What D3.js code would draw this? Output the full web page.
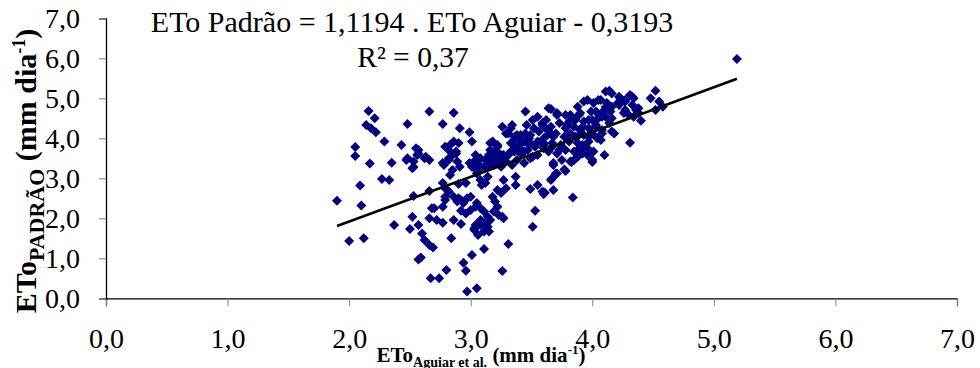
<!DOCTYPE html>
<html>
<head>
<meta charset="utf-8">
<script src="https://cdn.jsdelivr.net/npm/d3@7"></script>
<style>
  body { margin: 0; background: #fff; }
  svg { display: block; font-family: "Liberation Serif", "Times New Roman", serif; }
</style>
</head>
<body>
<figure id="scatter" style="margin:0"></figure>
<script>
// ETo (Aguiar et al.) vs ETo padrão, mm dia-1
const etoAguiar = [
  1.90,2.00,2.12,2.09,2.10,2.27,2.33,2.37,2.52,2.50,2.53,2.57,2.60,2.62,2.66,2.66,2.69,2.59,2.57,2.68,
  2.66,2.67,2.74,2.77,2.77,2.72,2.77,2.80,2.84,2.83,2.85,2.79,2.82,2.86,2.89,2.92,2.86,2.92,2.92,2.90,
  2.96,2.97,3.00,2.94,2.96,3.01,2.97,3.05,3.03,3.06,3.11,3.05,3.08,3.09,3.14,3.12,3.05,3.08,3.11,3.14,
  3.16,3.08,3.11,3.14,3.15,3.11,3.08,3.18,3.20,3.22,3.19,3.23,3.26,3.27,3.22,3.25,3.27,3.29,3.31,3.26,
  3.37,3.37,3.51,3.53,3.49,3.55,3.59,3.60,3.70,3.67,3.66,3.78,3.68,3.61,3.84,3.68,3.77,3.83,4.00,
  2.16,2.21,2.14,2.18,2.22,2.29,2.05,2.05,2.17,2.35,2.43,2.48,2.47,2.53,2.52,2.56,2.57,2.62,2.66,2.66,
  2.77,2.86,2.91,2.99,2.77,2.83,2.86,2.88,2.85,2.90,2.82,2.89,3.01,2.99,3.04,3.08,3.11,3.07,3.03,3.14,
  3.16,3.22,3.20,3.15,3.19,3.25,3.18,3.23,3.27,3.26,3.34,3.31,3.38,3.33,3.37,3.41,3.44,3.40,3.36,3.31,
  3.44,3.48,3.45,3.51,3.55,3.59,3.56,3.52,3.46,3.49,3.60,3.55,3.55,3.49,3.44,3.60,
  5.19,4.14,3.66,3.71,3.62,3.63,3.66,3.68,3.60,3.67,3.73,3.68,3.71,3.85,3.82,3.88,3.92,3.96,4.00,4.10,
  4.18,4.31,4.40,4.52,4.48,4.55,4.58,4.52,4.33,4.38,4.27,4.23,4.21,4.30,4.26,4.34,3.88,3.93,3.96,4.01,
  4.07,4.12,4.16,3.82,3.90,3.99,4.04,4.10,4.15,3.81,3.86,3.93,4.00,4.05,4.11,3.78,3.85,3.90,3.97,4.03,
  3.79,3.86,3.93,3.99,4.08,3.92,3.97,4.04,3.88,3.96,4.01,4.07,
  4.31,4.34,4.16,3.33,3.29,3.18,3.22,3.16,2.79,2.83,2.88,2.82,2.78,2.91,3.04,3.12,3.15,3.07,3.01,3.11,
  3.23,3.25,3.20,3.27,3.29,3.25,3.36,3.40,3.37,3.33,3.42,3.45,3.48,3.41,3.47,3.38,3.34,3.51,3.53,3.49,
  3.64,3.71,3.78,3.84,3.89,3.59,3.66,3.73,3.79,3.63,3.70,3.77,3.82,3.89,3.60,3.67,3.74,3.81,3.88,3.64,
  3.71,3.78,3.85,3.75,3.89,3.94,3.97,3.92,
  4.11,4.16,4.22,4.27,4.33,4.22,4.27,4.36,4.38,4.16,4.05,4.11,4.03,4.08,4.14,3.97,4.03,4.08,4.00,
  2.55,2.57,2.48,2.63,2.53,2.70,2.79,2.90,2.94,2.79,3.00,3.04,3.03,2.96,3.04
];
const etoPadrao = [
  2.44,1.43,1.50,2.82,2.32,2.98,2.96,1.83,2.04,1.73,2.56,1.83,1.62,1.46,2.68,1.33,1.27,1.02,0.97,2.25,
  2.00,0.50,0.50,2.29,2.88,1.96,1.89,0.71,1.50,3.08,3.21,2.75,2.67,2.54,2.42,2.46,1.96,1.86,2.19,2.86,
  2.88,2.50,2.54,0.89,0.69,1.08,0.17,0.25,1.75,1.58,1.23,3.12,2.96,2.83,3.04,2.88,2.38,2.25,2.17,2.04,
  1.96,1.96,1.88,1.79,1.67,1.67,1.83,2.54,2.42,2.29,2.17,2.08,2.04,2.00,2.71,2.63,2.96,2.75,1.36,0.68,
  3.04,2.83,1.79,2.19,2.73,2.83,2.67,2.61,3.12,3.00,2.96,3.18,2.71,2.64,2.52,3.33,3.22,3.41,3.41,
  4.68,4.50,4.33,4.25,4.15,3.92,3.78,3.56,3.37,3.39,3.83,4.36,3.46,3.42,3.25,3.58,3.71,3.50,3.46,4.67,
  4.36,4.64,4.25,4.15,3.38,3.83,3.92,3.67,3.58,3.88,3.46,3.42,3.92,3.38,3.46,3.50,3.29,3.21,3.25,3.42,
  3.88,3.83,3.67,3.58,3.50,3.58,3.33,3.38,3.42,4.29,4.33,4.12,4.08,3.88,4.00,4.08,3.92,3.75,3.67,3.58,
  3.67,3.83,4.67,4.46,4.54,4.33,4.17,4.25,4.33,4.08,4.00,3.92,3.58,3.50,3.38,3.75,
  5.98,5.19,4.73,4.58,4.46,4.21,4.12,4.04,3.83,3.79,3.71,3.38,3.12,3.46,3.42,3.54,3.62,3.58,3.46,3.58,
  4.12,3.89,4.44,5.19,5.00,4.92,4.79,4.71,5.04,4.75,4.92,5.00,4.88,4.58,4.63,4.54,4.79,4.92,4.96,4.88,
  4.96,4.88,4.79,4.58,4.63,4.67,4.63,4.71,4.67,4.42,4.46,4.42,4.46,4.50,4.54,4.25,4.29,4.21,4.25,4.29,
  4.08,4.04,4.08,4.12,4.12,3.83,3.92,4.00,3.71,3.75,3.67,3.96,
  5.08,5.00,4.17,4.25,4.12,3.92,3.79,3.71,3.79,3.67,3.62,3.50,3.33,3.29,3.58,3.46,3.33,3.33,3.29,3.25,
  3.62,3.50,3.42,3.58,3.42,3.29,4.04,3.96,3.79,3.67,3.88,4.12,4.00,3.62,3.71,3.46,3.33,3.54,3.79,3.88,
  4.75,4.63,4.58,4.50,4.58,4.38,4.29,4.38,4.33,4.08,4.12,4.04,4.12,4.08,3.88,3.88,3.83,3.92,3.88,3.67,
  3.62,3.71,3.67,3.46,3.58,3.79,4.04,4.29,
  5.17,5.12,5.04,4.96,4.83,4.83,4.71,4.71,4.63,4.50,4.96,4.79,4.67,4.54,4.38,4.46,4.33,4.21,4.12,
  3.75,3.62,3.50,3.54,3.28,2.25,2.54,2.50,2.38,2.46,2.21,2.29,1.71,2.12,1.83
];
const xTicks = [0, 1, 2, 3, 4, 5, 6, 7];
const yTicks = [0, 1, 2, 3, 4, 5, 6, 7];
const slope = 1.1194;
const intercept = -0.3193;
const equationText = "ETo Padrão = 1,1194 . ETo Aguiar - 0,3193";
const r2Text = "R² = 0,37";

const width = 980, height = 368;
const fmt = d => d.toFixed(1).replace(".", ",");

const svg = d3.select("figure#scatter")
  .append("svg")
  .attr("width", width)
  .attr("height", height);

const x = d3.scaleLinear().domain([0, 7]).range([106, 957]);
const y = d3.scaleLinear().domain([0, 7]).range([298.3, 18.3]);

// axes: black lines, grey ticks
const xAxis = svg.append("g")
  .attr("transform", "translate(0," + y(0) + ")")
  .call(d3.axisBottom(x).tickValues(xTicks).tickFormat(fmt).tickSize(8).tickPadding(22));
const yAxis = svg.append("g")
  .attr("transform", "translate(" + x(0) + ",0)")
  .call(d3.axisLeft(y).tickValues(yTicks).tickFormat(fmt).tickSize(7).tickPadding(19));

[xAxis, yAxis].forEach(g => {
  g.attr("font-family", null);
  g.select(".domain").attr("stroke", "#000").attr("stroke-width", 1.3);
  g.selectAll(".tick line").attr("stroke", "#808080");
  g.selectAll(".tick text")
    .attr("fill", "#000")
    .style("font-family", "'Liberation Serif', 'Times New Roman', serif")
    .style("font-size", "28px");
});

// points
const diamond = d3.symbol().type(d3.symbolSquare).size(50);
svg.append("g")
  .selectAll("path")
  .data(etoAguiar.map((v, i) => [v, etoPadrao[i]]))
  .enter()
  .append("path")
  .attr("d", diamond)
  .attr("transform", d => "translate(" + x(d[0]) + "," + y(d[1]) + ") rotate(45)")
  .attr("fill", "#000080");

// trend line across the data range
const x0 = d3.min(etoAguiar), x1 = d3.max(etoAguiar);
svg.append("line")
  .attr("x1", x(x0)).attr("y1", y(slope * x0 + intercept))
  .attr("x2", x(x1)).attr("y2", y(slope * x1 + intercept))
  .attr("stroke", "#000")
  .attr("stroke-width", 2.6);

// equation label
svg.append("text")
  .attr("x", 412).attr("y", 32)
  .attr("text-anchor", "middle")
  .style("font-size", "30px")
  .text(equationText);
svg.append("text")
  .attr("x", 413).attr("y", 66.5)
  .attr("text-anchor", "middle")
  .style("font-size", "29.5px")
  .text(r2Text);

// x axis title
const xt = svg.append("text")
  .attr("x", 481).attr("y", 362)
  .attr("text-anchor", "middle")
  .attr("font-weight", "bold")
  .style("font-size", "21px");
xt.append("tspan").text("ETo");
xt.append("tspan").attr("dy", 5).style("font-size", "14px").text("Aguiar et al.");
xt.append("tspan").attr("dy", -5).text(" (mm dia");
xt.append("tspan").attr("dy", -8).style("font-size", "13px").text("-1");
xt.append("tspan").attr("dy", 8).text(")");

// y axis title
const yt = svg.append("text")
  .attr("transform", "translate(36,171) rotate(-90)")
  .attr("text-anchor", "middle")
  .attr("font-weight", "bold")
  .style("font-size", "30px");
yt.append("tspan").text("ETo");
yt.append("tspan").attr("dy", 8).style("font-size", "22px").text("PADRÃO");
yt.append("tspan").attr("dy", -8).text(" (mm dia");
yt.append("tspan").attr("dy", -11).style("font-size", "18px").text("-1");
yt.append("tspan").attr("dy", 11).text(")");
</script>
</body>
</html>
